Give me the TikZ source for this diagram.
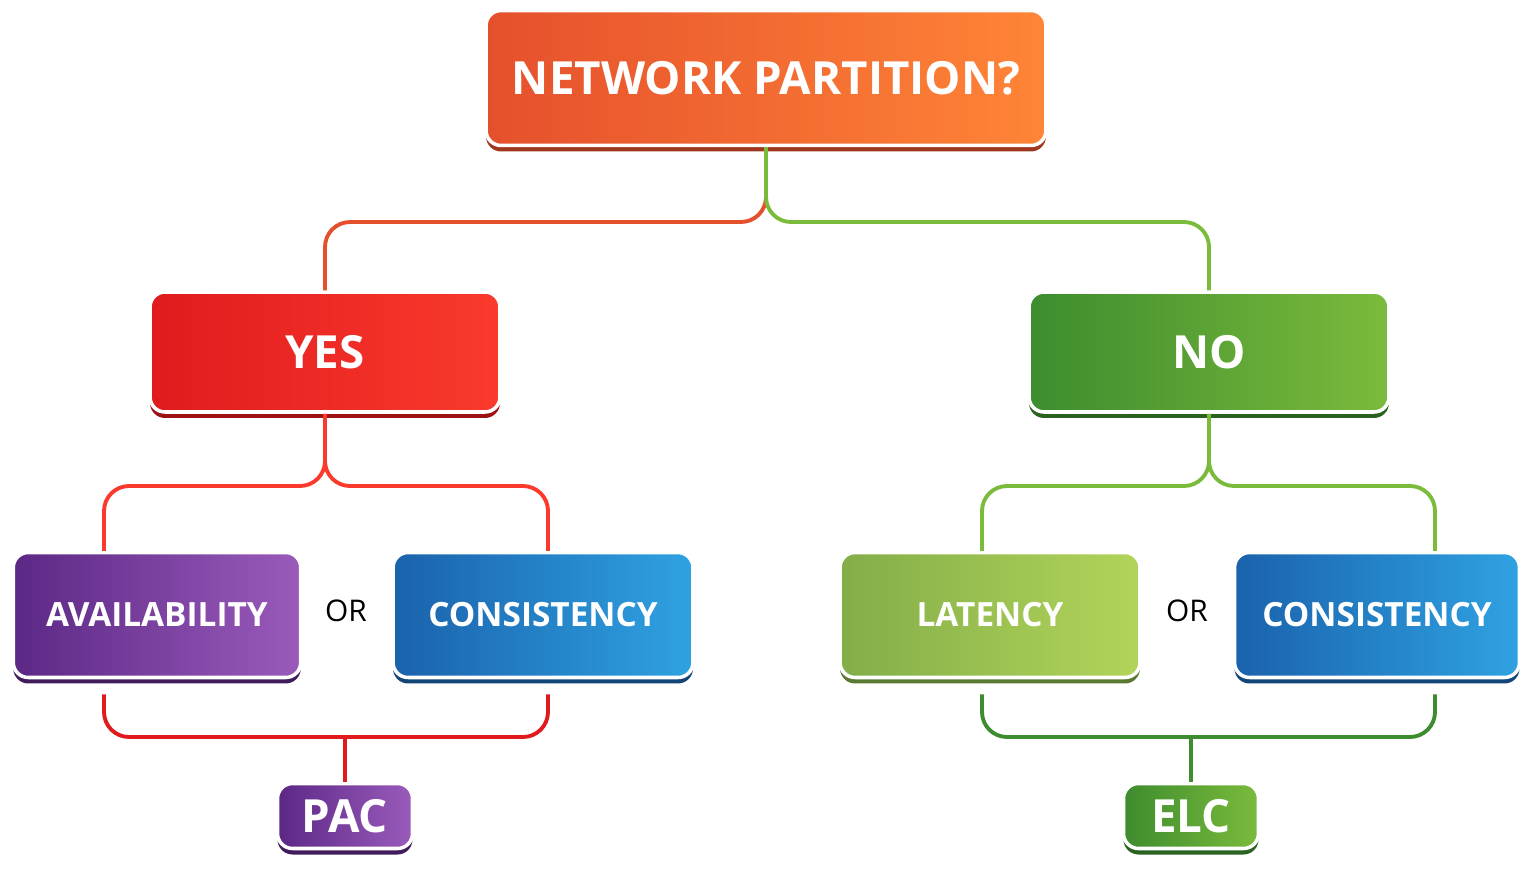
\documentclass[tikz,border=0pt]{standalone}
\usepackage{fontspec}
\setmainfont{Open Sans}
\usetikzlibrary{positioning,calc}
\definecolor{topA}{HTML}{E5502C}\definecolor{topB}{HTML}{FF8537}
\definecolor{yesA}{HTML}{E01B1E}\definecolor{yesB}{HTML}{FA3A2C}
\definecolor{noA}{HTML}{3D8C2E}\definecolor{noB}{HTML}{7BBB3C}
\definecolor{avA}{HTML}{5C2885}\definecolor{avB}{HTML}{9A5BBB}
\definecolor{coA}{HTML}{1A62AC}\definecolor{coB}{HTML}{2FA2E2}
\definecolor{laA}{HTML}{82AD48}\definecolor{laB}{HTML}{B2D45A}
\tikzset{
	box/.style args={#1/#2}{rounded corners=3mm, draw=white, line width=2pt,
		left color=#1, right color=#2, text=white, font=\bfseries,
		preaction={fill=#1!70!black, draw=none, transform canvas={yshift=-1.2mm}}},
	link/.style={line width=2.2pt, rounded corners=5mm, draw=#1}
}
\begin{document}
\begin{tikzpicture}[x=0.02cm,y=-0.02cm]
\useasboundingbox (0,0) rectangle (1536,893);
\node[box=topA/topB, minimum width=11.2cm, minimum height=2.7cm, font=\bfseries\fontsize{26}{30}\selectfont] (net) at (766,78) {NETWORK PARTITION?};
\node[box=yesA/yesB, minimum width=7cm, minimum height=2.4cm, font=\bfseries\fontsize{26}{30}\selectfont] (yes) at (325,352) {YES};
\node[box=noA/noB, minimum width=7.2cm, minimum height=2.4cm, font=\bfseries\fontsize{26}{30}\selectfont] (no) at (1209,352) {NO};
\node[box=avA/avB, minimum width=5.75cm, minimum height=2.5cm, font=\bfseries\fontsize{19}{22}\selectfont] (avail) at (157,615) {AVAILABILITY};
\node[box=coA/coB, minimum width=6cm, minimum height=2.5cm, font=\bfseries\fontsize{19}{22}\selectfont] (consl) at (543,615) {CONSISTENCY};
\node[box=laA/laB, minimum width=6cm, minimum height=2.5cm, font=\bfseries\fontsize{19}{22}\selectfont] (lat) at (990,615) {LATENCY};
\node[box=coA/coB, minimum width=5.7cm, minimum height=2.5cm, font=\bfseries\fontsize{19}{22}\selectfont] (consr) at (1377,615) {CONSISTENCY};
\node[font=\fontsize{17}{20}\selectfont] (orl) at (346,611) {OR};
\node[font=\fontsize{17}{20}\selectfont] (orr) at (1187,611) {OR};
\node[box=avA/avB, minimum width=2.7cm, minimum height=1.3cm, font=\bfseries\fontsize{26}{30}\selectfont] (pac) at (345,816) {PAC};
\node[box=noA/noB, minimum width=2.7cm, minimum height=1.3cm, font=\bfseries\fontsize{26}{30}\selectfont] (elc) at (1191,816) {ELC};

% forks
\coordinate (barT) at (0,222);
\coordinate (barY) at (0,486);
\coordinate (barB) at (0,737);
\draw[link=topA] (net.south) -- (net.south |- barT) -| (yes.north);
\draw[link=noB] (net.south) -- (net.south |- barT) -| (no.north);
\draw[link=yesB] (yes.south) -- (yes.south |- barY) -| ([xshift=-1.06cm]avail.north);
\draw[link=yesB] (yes.south) -- (yes.south |- barY) -| ([xshift=0.1cm]consl.north);
\draw[link=noB] (no.south) -- (no.south |- barY) -| ([xshift=-0.16cm]lat.north);
\draw[link=noB] (no.south) -- (no.south |- barY) -| ([xshift=1.16cm]consr.north);
\draw[link=yesA] ([xshift=-1.06cm,yshift=-3mm]avail.south) |- (pac.north |- barB) -| ([xshift=0.1cm,yshift=-3mm]consl.south);
\draw[link=yesA] (pac.north |- barB) -- (pac.north);
\draw[link=noA] ([xshift=-0.16cm,yshift=-3mm]lat.south) |- (elc.north |- barB) -| ([xshift=1.16cm,yshift=-3mm]consr.south);
\draw[link=noA] (elc.north |- barB) -- (elc.north);
\end{tikzpicture}
\end{document}
